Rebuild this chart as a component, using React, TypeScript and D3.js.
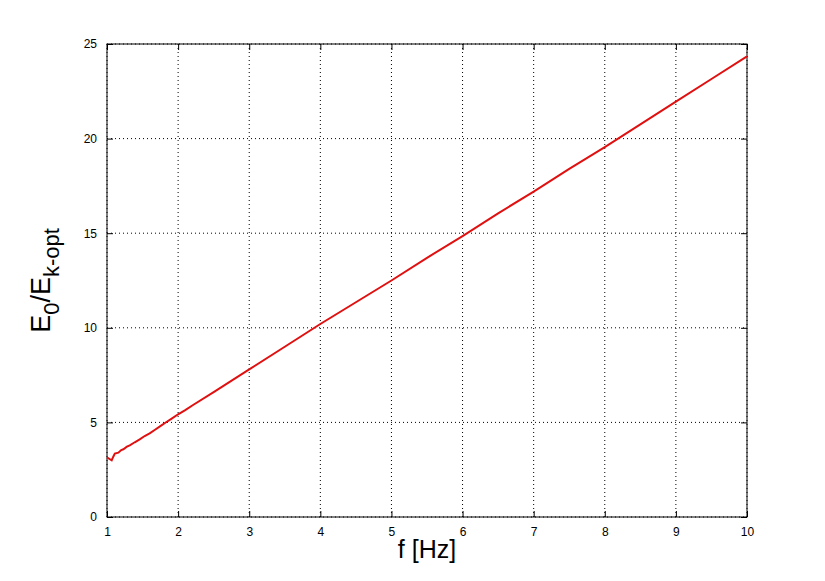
import React, { useEffect, useRef } from "react";
import * as d3 from "d3";

// values
const freq = [
  1.0, 1.03, 1.066, 1.09, 1.11, 1.16, 1.2, 1.23, 1.28, 1.32, 1.39, 1.46, 1.53,
  1.6, 1.67, 1.75, 1.82, 1.91, 2.0, 2.1, 2.21, 2.5, 3.0, 3.5, 4.0, 4.5, 5.0,
  5.5, 6.0, 6.5, 7.0, 7.5, 8.0, 8.5, 9.0, 9.5, 10.0,
];
const ratio = [
  3.15, 3.08, 3.0, 3.2, 3.35, 3.4, 3.54, 3.58, 3.72, 3.79, 3.95, 4.1, 4.28,
  4.42, 4.6, 4.8, 4.98, 5.2, 5.43, 5.65, 5.92, 6.6, 7.8, 9.0, 10.2, 11.35,
  12.5, 13.7, 14.85, 16.05, 17.2, 18.4, 19.55, 20.75, 21.95, 23.15, 24.35,
];
const xTicks = [1, 2, 3, 4, 5, 6, 7, 8, 9, 10];
const yTicks = [0, 5, 10, 15, 20, 25];

const App: React.FC = () => {
  const svgRef = useRef<SVGSVGElement | null>(null);

  useEffect(() => {
    const svg = d3.select(svgRef.current);
    svg.selectAll("*").remove();

    const margin = { top: 44, right: 78, bottom: 64, left: 107 };
    const width = 825 - margin.left - margin.right;
    const height = 581 - margin.top - margin.bottom;

    const x = d3.scaleLinear().domain([1, 10]).range([0, width]);
    const y = d3.scaleLinear().domain([0, 25]).range([height, 0]);

    const g = svg
      .append("g")
      .attr("transform", `translate(${margin.left},${margin.top})`);

    // grid
    g.selectAll(".gx")
      .data(xTicks)
      .enter()
      .append("line")
      .attr("x1", (d) => x(d))
      .attr("x2", (d) => x(d))
      .attr("y1", 0)
      .attr("y2", height)
      .attr("stroke", "#000")
      .attr("stroke-width", 1)
      .attr("stroke-dasharray", "1,3");
    g.selectAll(".gy")
      .data(yTicks)
      .enter()
      .append("line")
      .attr("x1", 0)
      .attr("x2", width)
      .attr("y1", (d) => y(d))
      .attr("y2", (d) => y(d))
      .attr("stroke", "#000")
      .attr("stroke-width", 1)
      .attr("stroke-dasharray", "1,3");

    // axes, ticks pointing inward, on all four sides
    const font = "Arial, 'Liberation Sans', sans-serif";
    const styleAxis = (sel: any) => {
      sel.select(".domain").remove();
      sel.selectAll("line").attr("stroke", "#000");
      sel.selectAll("text").style("font-family", font).style("font-size", "12px").attr("fill", "#000");
    };

    g.append("g")
      .attr("transform", `translate(0,${height})`)
      .call(d3.axisBottom(x).tickValues(xTicks).tickSizeInner(-6).tickSizeOuter(0).tickPadding(10).tickFormat(d3.format("d")))
      .call(styleAxis);
    g.append("g")
      .call(d3.axisTop(x).tickValues(xTicks).tickSizeInner(-6).tickSizeOuter(0).tickFormat(() => ""))
      .call(styleAxis);
    g.append("g")
      .call(d3.axisLeft(y).tickValues(yTicks).tickSizeInner(-6).tickSizeOuter(0).tickPadding(10).tickFormat(d3.format("d")))
      .call(styleAxis);
    g.append("g")
      .attr("transform", `translate(${width},0)`)
      .call(d3.axisRight(y).tickValues(yTicks).tickSizeInner(-6).tickSizeOuter(0).tickFormat(() => ""))
      .call(styleAxis);

    // box
    g.append("rect")
      .attr("width", width)
      .attr("height", height)
      .attr("fill", "none")
      .attr("stroke", "#000")
      .attr("stroke-width", 1);

    // the curve
    const pts: [number, number][] = freq.map((f, i) => [f, ratio[i]]);
    const line = d3
      .line<[number, number]>()
      .x((d) => x(d[0]))
      .y((d) => y(d[1]));
    g.append("path")
      .datum(pts)
      .attr("d", line)
      .attr("fill", "none")
      .attr("stroke", "#e01010")
      .attr("stroke-width", 2);

    // labels
    svg
      .append("text")
      .attr("x", margin.left + width / 2)
      .attr("y", 558)
      .attr("text-anchor", "middle")
      .style("font-family", font)
      .style("font-size", "25px")
      .text("f [Hz]");

    const yl = svg
      .append("text")
      .attr("transform", `translate(50,${margin.top + height / 2}) rotate(-90)`)
      .attr("text-anchor", "middle")
      .style("font-family", font)
      .style("font-size", "27px");
    yl.append("tspan").text("E");
    yl.append("tspan").attr("dy", 9).style("font-size", "22px").text("0");
    yl.append("tspan").attr("dy", -9).text("/E");
    yl.append("tspan").attr("dy", 9).style("font-size", "22px").text("k-opt");
  }, []);

  return (
    <svg
      ref={svgRef}
      width={825}
      height={581}
      style={{ position: "absolute", left: 0, top: 0, background: "#fff" }}
    ></svg>
  );
};

export default App;
